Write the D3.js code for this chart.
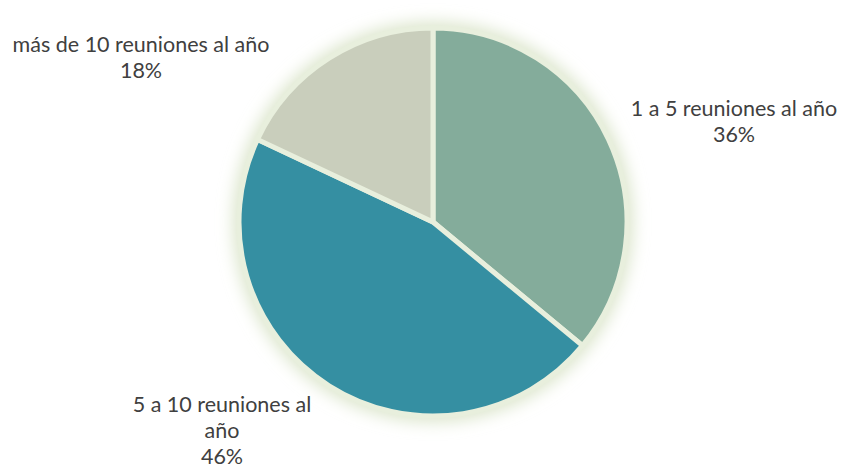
<!DOCTYPE html>
<html><head><meta charset="utf-8">
<script src="https://cdn.jsdelivr.net/npm/d3@7"></script>
<style>body{margin:0;background:#fff}svg{display:block}</style>
</head><body>
<svg id="c" width="842" height="476"></svg>
<script>
const categories = ["1 a 5 reuniones al año", "5 a 10 reuniones al año", "más de 10 reuniones al año"];
const values = [36, 46, 18];
const colors = ["#84ac9b", "#358fa2", "#c9cebc"];
const labelLines = [["1 a 5 reuniones al año", "36%"], ["5 a 10 reuniones al", "año", "46%"], ["más de 10 reuniones al año", "18%"]];
const labelPos = [[734, 116], [222, 412], [141, 52]];

const svg = d3.select("#c");
const cx = 433, cy = 222, r = 194;
const defs = svg.append("defs");
const f = defs.append("filter").attr("id", "glow").attr("x", "-25%").attr("y", "-25%").attr("width", "150%").attr("height", "150%");
f.append("feGaussianBlur").attr("stdDeviation", 8);

const g = svg.append("g").attr("transform", `translate(${cx},${cy})`);
g.append("circle").attr("r", r + 6).attr("fill", "#dbe5cb").attr("filter", "url(#glow)");
g.append("circle").attr("r", r + 2).attr("fill", "#e8efdd");

const pie = d3.pie().sort(null).value(d => d);
const arc = d3.arc().innerRadius(0).outerRadius(r);
g.selectAll("path").data(pie(values)).join("path")
  .attr("d", arc)
  .attr("fill", (d, i) => colors[i])
  .attr("stroke", "#e8efdd")
  .attr("stroke-width", 5)
  .attr("stroke-linejoin", "miter");

labelLines.forEach((lines, i) => {
  const t = svg.append("text").attr("text-anchor", "middle")
    .attr("font-family", "Lato, 'Open Sans', sans-serif").attr("font-size", 21.5).attr("fill", "#404040");
  lines.forEach((s, j) => t.append("tspan").attr("x", labelPos[i][0]).attr("y", labelPos[i][1] + j * 26).text(s));
});
</script>
</body></html>
